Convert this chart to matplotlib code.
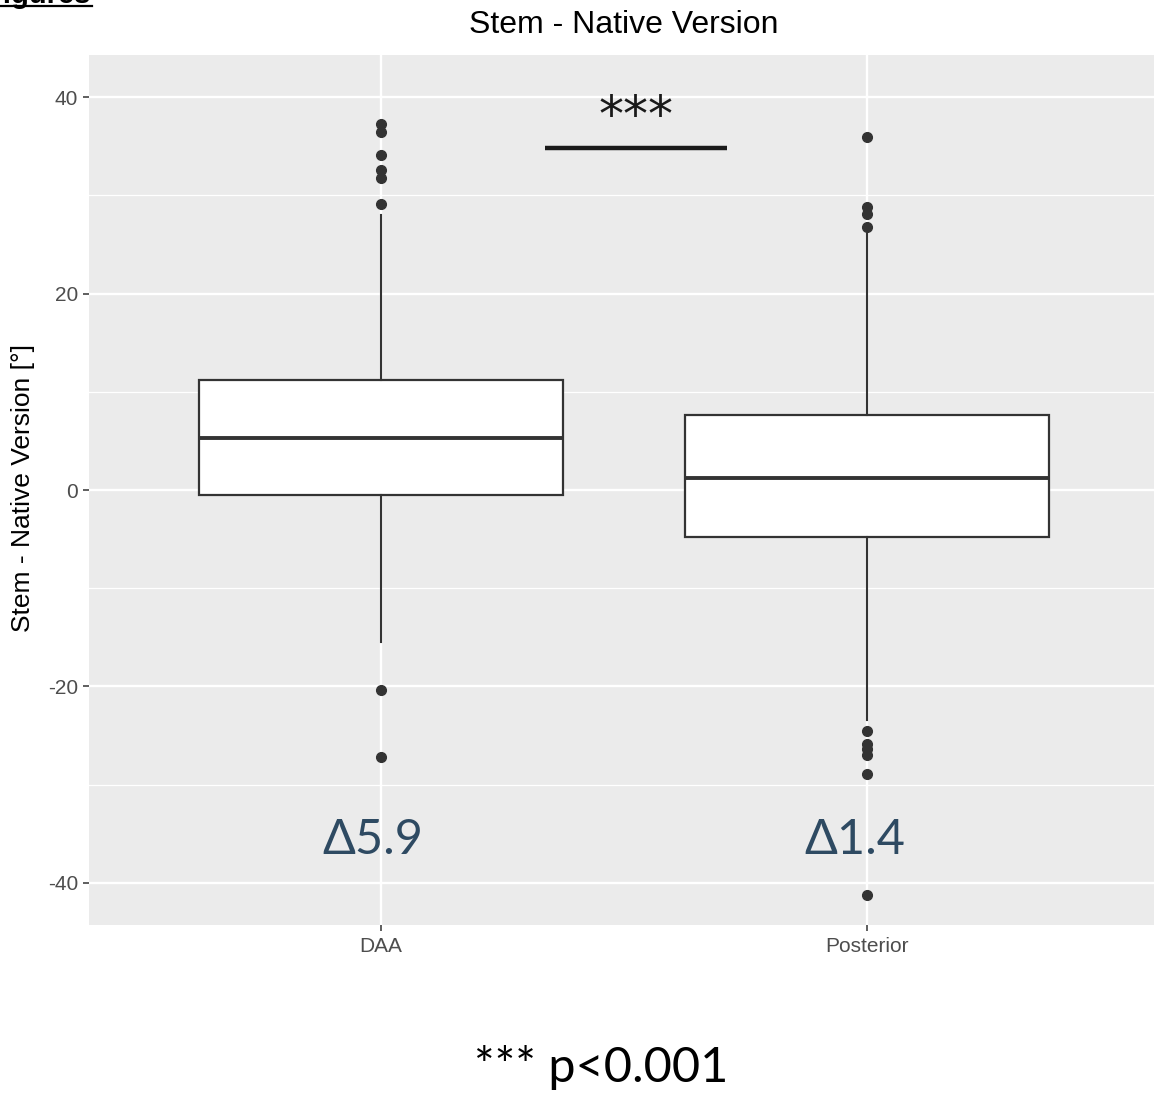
import matplotlib
matplotlib.use("Agg")
import matplotlib.pyplot as plt
from matplotlib.lines import Line2D

# ---------------- data ----------------
categories = ["DAA", "Posterior"]
q1 = [-0.5, -4.8]
median = [5.3, 1.2]
q3 = [11.2, 7.6]
whisker_low = [-15.5, -23.4]
whisker_high = [28.0, 26.1]
outliers_daa = [37.3, 36.5, 34.1, 32.6, 31.8, 29.1, -20.4, -27.2]
outliers_posterior = [35.9, 28.8, 28.1, 26.8, -24.5, -25.9, -26.4, -27.0, -28.9, -41.2]
delta_labels = ["Δ5.9", "Δ1.4"]
yticks = [-40, -20, 0, 20, 40]
minor_yticks = [-30, -10, 10, 30]
sig_label = "***"
sig_y = 34.8
footnote = "*** p<0.001"

W, H = 1154, 1097
fig = plt.figure(figsize=(W / 100, H / 100), dpi=100)
fig.patch.set_facecolor("white")

# panel in pixels: left 89.4, right 1158.6, top 55, bottom 925
left, right, top, bottom = 89.4, 1158.6, 55, 925
ax = fig.add_axes([left / W, 1 - bottom / H, (right - left) / W, (bottom - top) / H])
ax.set_facecolor("#EBEBEB")
for s in ax.spines.values():
    s.set_visible(False)

positions = [1, 2]
ax.set_xlim(0.4, 2.6)
ax.set_ylim(-44.3, 44.3)

# grid
for y in minor_yticks:
    ax.axhline(y, color="white", lw=0.9, zorder=0.5)
for y in yticks:
    ax.axhline(y, color="white", lw=1.7, zorder=0.6)
for x in positions:
    ax.axvline(x, color="white", lw=1.7, zorder=0.6)

outliers = [outliers_daa, outliers_posterior]
stats = []
for i, c in enumerate(categories):
    stats.append(dict(label=c, q1=q1[i], med=median[i], q3=q3[i],
                      whislo=whisker_low[i], whishi=whisker_high[i],
                      fliers=outliers[i]))

ax.bxp(stats, positions=positions, widths=0.75, patch_artist=True,
       showcaps=False,
       boxprops=dict(facecolor="white", edgecolor="#333333", linewidth=1.6),
       medianprops=dict(color="#333333", linewidth=2.8, solid_capstyle="butt"),
       whiskerprops=dict(color="#333333", linewidth=1.5),
       flierprops=dict(marker="o", markerfacecolor="#333333",
                       markeredgecolor="#333333", markersize=7),
       zorder=2)

ax.set_yticks(yticks)
ax.set_yticklabels([str(v) for v in yticks])
ax.set_xticks(positions)
ax.set_xticklabels(categories)
ax.tick_params(axis="both", which="major", color="#333333", length=4,
               width=1.1, labelcolor="#4D4D4D", labelsize=15, pad=4)
ax.tick_params(axis="x", pad=5)
for lab in ax.get_xticklabels() + ax.get_yticklabels():
    lab.set_family("Liberation Sans")
ax.minorticks_off()

# significance bar
ax.plot([1.337, 1.712], [sig_y, sig_y], color="#1a1a1a", lw=3.2,
        solid_capstyle="butt", zorder=3)
ax.text(1.525, 36.6, sig_label, ha="center", va="baseline", fontsize=36,
        family="DejaVu Sans", color="#1a1a1a", zorder=3)

# delta labels
delta_x = [0.983, 1.975]
for x, lab in zip(delta_x, delta_labels):
    ax.text(x, -35.6, lab, ha="center", va="center", fontsize=35,
            family=["Lato", "DejaVu Sans"], color="#2E4A62", zorder=3)

# title & y label
fig.text(624 / W, 1 - 25 / H, "Stem - Native Version", ha="center",
         va="center", fontsize=23, family="Liberation Sans", color="black")
fig.text(23 / W, 1 - 488 / H, "Stem - Native Version [°]", ha="center",
         va="center", rotation=90, fontsize=19, family="Liberation Sans",
         color="black")

# footnote
fig.text(601 / W, 1 - 1068 / H, footnote, ha="center", va="center",
         fontsize=35, family=["Lato", "DejaVu Sans"], color="black")

# clipped heading at top-left (cut off in the reference as well)
fig.text(90 / W, 1 - 3 / H, "Figures", ha="right", va="baseline",
         fontsize=21, fontweight="bold", family="Liberation Sans",
         color="black")
fig.add_artist(Line2D([0, 92 / W], [1 - 5.5 / H, 1 - 5.5 / H],
                      transform=fig.transFigure, color="black", lw=1.6))

fig.savefig("out.png", dpi=100, facecolor="white")
